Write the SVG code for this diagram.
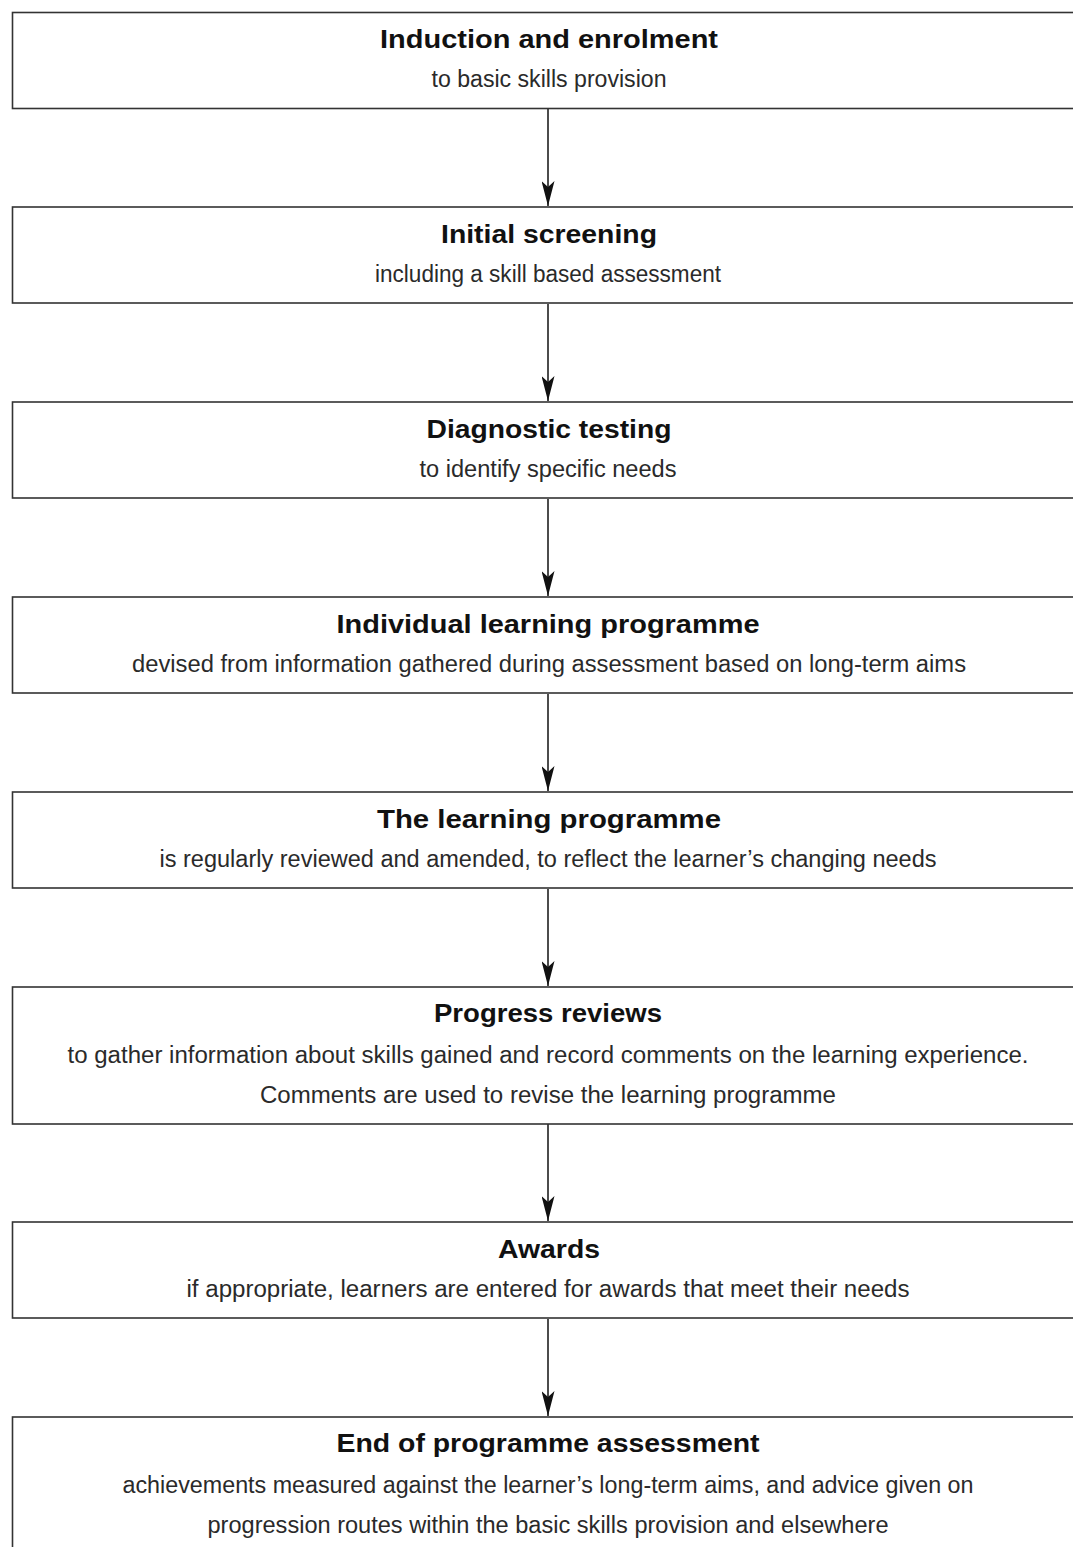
<svg xmlns="http://www.w3.org/2000/svg" width="1073" height="1547" viewBox="0 0 1073 1547">
<style>
.box{fill:#fff;stroke:#333;stroke-width:1.6}
.t{font-family:"Liberation Sans",Arial,sans-serif;font-weight:bold;font-size:26px;fill:#111;text-anchor:middle}
.s{font-family:"Liberation Sans",Arial,sans-serif;font-size:23px;fill:#2a2a2a;text-anchor:middle}
.c{stroke:#111;stroke-width:1.5;fill:none}
</style>
<defs>
<marker id="ah" markerUnits="userSpaceOnUse" markerWidth="25" markerHeight="13" refX="25" refY="6.5" orient="auto" viewBox="0 0 25 13">
<path d="M0,0 L25,6.5 L0,13 L6,6.5 Z" fill="#111"/>
</marker>
</defs>
<rect width="1073" height="1547" fill="#fff"/>
<g id="connectors">
<line class="c" x1="548" y1="109" x2="548" y2="206" marker-end="url(#ah)"/>
<line class="c" x1="548" y1="304" x2="548" y2="401" marker-end="url(#ah)"/>
<line class="c" x1="548" y1="499" x2="548" y2="596" marker-end="url(#ah)"/>
<line class="c" x1="548" y1="694" x2="548" y2="791" marker-end="url(#ah)"/>
<line class="c" x1="548" y1="889" x2="548" y2="986" marker-end="url(#ah)"/>
<line class="c" x1="548" y1="1124" x2="548" y2="1221" marker-end="url(#ah)"/>
<line class="c" x1="548" y1="1319" x2="548" y2="1416" marker-end="url(#ah)"/>
</g>
<g id="n1">
<rect class="box" x="12.5" y="12.5" width="1070" height="96"/>
<text class="t" x="549" y="48" textLength="338" lengthAdjust="spacingAndGlyphs">Induction and enrolment</text>
<text class="s" x="549" y="87" textLength="235" lengthAdjust="spacingAndGlyphs">to basic skills provision</text>
</g>
<g id="n2">
<rect class="box" x="12.5" y="207" width="1070" height="96"/>
<text class="t" x="549" y="243" textLength="216" lengthAdjust="spacingAndGlyphs">Initial screening</text>
<text class="s" x="548" y="282" textLength="346" lengthAdjust="spacingAndGlyphs">including a skill based assessment</text>
</g>
<g id="n3">
<rect class="box" x="12.5" y="402" width="1070" height="96"/>
<text class="t" x="549" y="438" textLength="245" lengthAdjust="spacingAndGlyphs">Diagnostic testing</text>
<text class="s" x="548" y="477" textLength="257" lengthAdjust="spacingAndGlyphs">to identify specific needs</text>
</g>
<g id="n4">
<rect class="box" x="12.5" y="597" width="1070" height="96"/>
<text class="t" x="548" y="633" textLength="423" lengthAdjust="spacingAndGlyphs">Individual learning programme</text>
<text class="s" x="549" y="672" textLength="834" lengthAdjust="spacingAndGlyphs">devised from information gathered during assessment based on long-term aims</text>
</g>
<g id="n5">
<rect class="box" x="12.5" y="792" width="1070" height="96"/>
<text class="t" x="549" y="828" textLength="344" lengthAdjust="spacingAndGlyphs">The learning programme</text>
<text class="s" x="548" y="867" textLength="777" lengthAdjust="spacingAndGlyphs">is regularly reviewed and amended, to reflect the learner’s changing needs</text>
</g>
<g id="n6">
<rect class="box" x="12.5" y="987" width="1070" height="137"/>
<text class="t" x="548" y="1022" textLength="228" lengthAdjust="spacingAndGlyphs">Progress reviews</text>
<text class="s" x="548" y="1063" textLength="961" lengthAdjust="spacingAndGlyphs">to gather information about skills gained and record comments on the learning experience.</text>
<text class="s" x="548" y="1103" textLength="576" lengthAdjust="spacingAndGlyphs">Comments are used to revise the learning programme</text>
</g>
<g id="n7">
<rect class="box" x="12.5" y="1222" width="1070" height="96"/>
<text class="t" x="549" y="1258" textLength="102" lengthAdjust="spacingAndGlyphs">Awards</text>
<text class="s" x="548" y="1297" textLength="723" lengthAdjust="spacingAndGlyphs">if appropriate, learners are entered for awards that meet their needs</text>
</g>
<g id="n8">
<rect class="box" x="12.5" y="1417" width="1070" height="140"/>
<text class="t" x="548" y="1452" textLength="423" lengthAdjust="spacingAndGlyphs">End of programme assessment</text>
<text class="s" x="548" y="1493" textLength="851" lengthAdjust="spacingAndGlyphs">achievements measured against the learner’s long-term aims, and advice given on</text>
<text class="s" x="548" y="1533" textLength="681" lengthAdjust="spacingAndGlyphs">progression routes within the basic skills provision and elsewhere</text>
</g>
</svg>
